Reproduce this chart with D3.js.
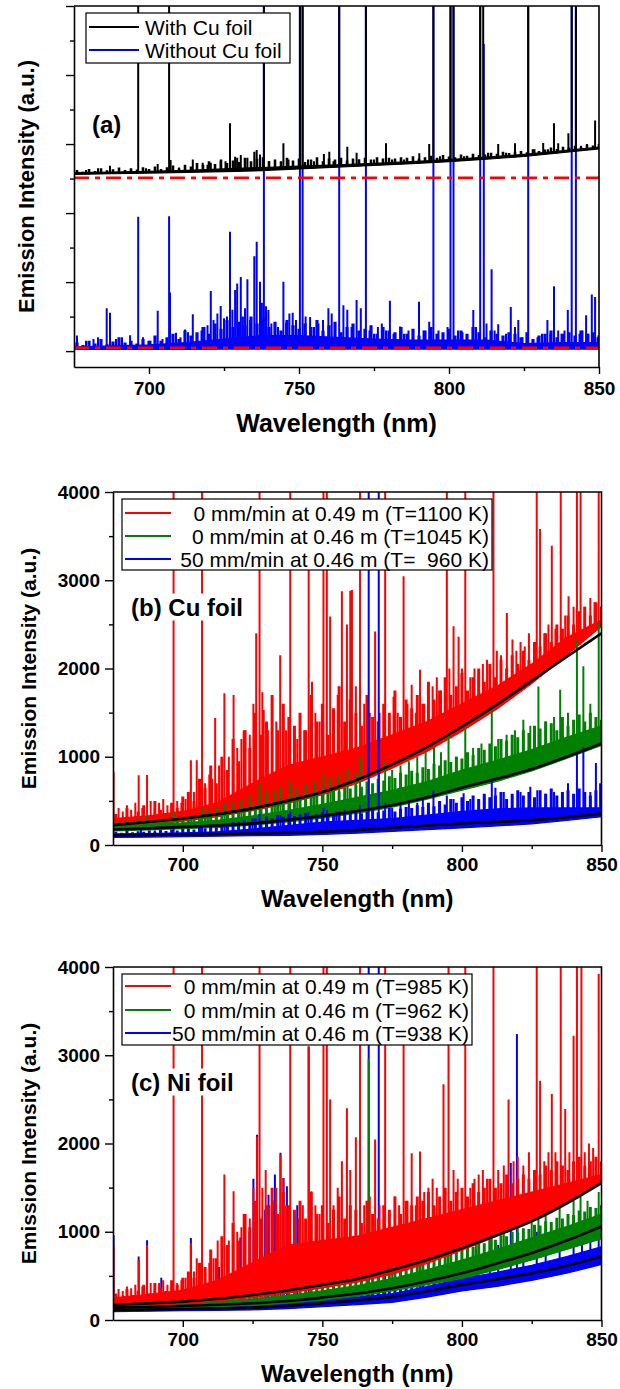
<!DOCTYPE html>
<html><head><meta charset="utf-8">
<script src="https://cdn.jsdelivr.net/npm/d3@7"></script>
<style>body{margin:0;background:#fff}svg{display:block}text{font-family:"Liberation Sans",Arial,sans-serif}</style>
</head><body><svg id="c" width="620" height="1389"></svg>
<script>
// ---------- shared wavelength grids (nm) ----------
const wlGrid = [675,687.5,700,712.5,725,737.5,750,762.5,775,787.5,800,812.5,825,837.5,850];
const denseWl = d3.range(676, 851, 2);   // 676, 678, ... 850 (88 channels)
const xMajor = [700,750,800,850];
const xMinor = [725,775,825];

// ---------- panel (a) ----------
const aLegend = ["With Cu foil","Without Cu foil"];
const aYMajor = [0,2,4,6,8,10];
const aYMinor = [1,3,5,7,9];
const aRefLines = [5.02,0.09];
const aBlueLow  = [0.05,0.05,0.05,0.05,0.06,0.06,0.06,0.06,0.06,0.06,0.06,0.06,0.06,0.06,0.06];
const aBlueHigh = [0.12,0.15,0.18,0.25,0.35,0.45,0.45,0.4,0.35,0.32,0.32,0.32,0.22,0.25,0.25];
const aBlackLow  = [5.12,5.14,5.16,5.18,5.2,5.23,5.28,5.33,5.38,5.43,5.49,5.56,5.64,5.75,5.86];
const aBlackHigh = [5.17,5.19,5.21,5.24,5.28,5.32,5.36,5.4,5.44,5.49,5.55,5.62,5.7,5.8,5.91];
const aBlueDense = [0.25,0.18,0.3,0.22,0.35,0.2,0.28,0.4,0.25,0.3,0.22,0.35,0.3,
  0.45,0.3,0.4,0.5,0.35,0.6,0.45,0.55,0.7,0.5,0.8,0.65,0.9,0.7,0.85,0.75,1.0,0.8,0.95,0.7,
  0.85,0.6,0.9,0.75,0.65,0.8,0.7,0.9,0.6,0.75,0.85,0.55,0.7,0.8,0.6,0.65,0.75,0.5,0.7,0.6,
  0.55,0.7,0.5,0.65,0.45,0.6,0.7,0.5,0.55,0.65,0.45,0.6,0.5,0.7,0.55,0.4,0.6,0.5,0.45,0.55,
  0.5,0.4,0.55,0.35,0.45,0.5,0.6,0.4,0.5,0.55,0.45,0.6,0.5,0.55,0.45];
const aBlackDense = [5.25,5.2,5.28,5.22,5.3,5.24,5.27,5.32,5.25,5.3,5.26,5.33,5.28,
  5.35,5.28,5.33,5.38,5.3,5.4,5.35,5.45,5.4,5.5,5.42,5.55,5.45,5.52,5.48,5.6,5.5,5.58,5.62,5.5,
  5.55,5.5,5.6,5.52,5.58,5.48,5.55,5.62,5.5,5.58,5.55,5.6,5.52,5.58,5.56,5.6,5.55,5.62,5.58,5.6,
  5.58,5.62,5.6,5.65,5.58,5.62,5.66,5.6,5.68,5.64,5.62,5.7,5.66,5.72,5.68,5.7,5.75,5.72,5.78,5.74,
  5.78,5.8,5.76,5.85,5.8,5.84,5.9,5.86,5.92,5.9,5.95,5.92,5.98,5.96,6.0];
const aBluePeaks = [[675.0,1.2],[676,0.45],[679,0.3],[681.5,0.35],[683,0.4],[685.9,1.24],[687,1.11],[689,0.35],[691,0.4],[693.7,0.46],[696.4,3.89],[698,0.4],[700.5,0.3],[702.9,1.17],[704.5,0.35],[706.7,3.91],[707,1.7],[709,0.53],[710.5,0.4],[712,0.63],[713,0.55],[714.6,1.07],[716,0.5],[717.5,0.6],[718.5,0.7],[719.5,0.75],[720.6,1.74],[721.5,0.9],[722.8,1.09],[723.9,1.31],[725,0.95],[726,1.0],[727,3.46],[727.8,1.2],[728.7,1.77],[729.4,1.96],[730.6,2.15],[731.3,1.0],[732,1.24],[732.8,2.08],[733.7,0.9],[735.1,2.75],[735.9,3.17],[737,2.01],[737.6,1.4],[738.3,11],[739,1.3],[739.8,1.19],[740.8,0.8],[742,0.6],[743,0.7],[744.8,2.01],[745.7,0.82],[746.8,1.09],[747.9,1.11],[749,0.9],[750.3,11],[751.2,11],[752.2,1.0],[753.7,0.99],[755,0.7],[756.5,0.8],[758,0.9],[759.8,1.24],[760.9,1.09],[762,0.6],[763.4,11],[764.8,1.33],[766.1,1.2],[767.5,0.7],[769.2,1.48],[770.6,1.24],[772.3,11],[773.5,0.6],[775,0.5],[776.3,0.7],[777.6,0.8],[779,0.6],[780.3,1.46],[781.5,0.5],[783.7,0.71],[785,0.5],[786.5,0.6],[788,0.5],[790,1.43],[791.5,0.6],[793.4,0.85],[794.8,11],[796.5,0.6],[798,0.5],[799.5,0.7],[800.5,11],[801.5,11],[803,0.6],[804.5,0.55],[806,0.4],[808.1,1.19],[809,0.7],[810.4,11],[811.6,8.9],[812.5,0.8],[814.2,2.37],[815.2,0.6],[816.4,0.78],[818,0.4],[819,0.5],[820.6,1.28],[822,0.7],[823.1,0.9],[824.5,0.4],[826.4,11],[828,0.3],[829.5,0.4],[831,0.5],[832.8,0.9],[833.8,0.5],[835,1.88],[836.4,0.6],[837.5,0.5],[838.5,0.6],[839.6,1.19],[840.9,11],[842.3,11],[843.5,0.5],[844.5,0.6],[845.7,1.04],[846.5,0.5],[847.6,1.64],[848.7,1.57],[849.5,0.4]];
const aBlackPeaks = [[675,5.42],[679,5.25],[683,5.3],[687,5.37],[690,5.28],[696.4,12],[699,5.3],[702.9,5.42],[706.7,12],[707.2,5.54],[710,5.32],[712,5.35],[714.6,5.55],[717.9,5.46],[719.5,5.4],[720.6,5.46],[722,5.42],[723.9,5.51],[725.5,5.5],[727,6.6],[728.7,5.63],[729.4,5.6],[730.6,5.68],[732.8,5.6],[735.1,5.78],[735.9,5.83],[737,5.7],[738.3,12],[740,5.5],[742,5.45],[744.8,6.02],[746.5,5.55],[748,5.5],[750.3,12],[751.2,12],[753,5.55],[755,5.5],[758.3,5.71],[760.1,5.78],[761.5,5.5],[763.4,12],[766.1,5.92],[769.2,5.75],[772.3,12],[775,5.55],[779,6.02],[781,5.55],[785,5.55],[788,5.6],[790.1,5.73],[793.4,6.0],[794.8,12],[797,5.65],[800.5,12],[801.5,12],[805,5.65],[808,5.7],[810.4,12],[811.4,12],[813,5.75],[816.4,6.0],[819,5.75],[822,6.02],[824,5.8],[826.4,12],[828.5,5.85],[831.4,6.03],[833,5.85],[835,6.6],[836.4,6.02],[838,5.9],[839.8,6.31],[840.9,12],[842.3,12],[844,5.95],[846,6.0],[848.7,6.68]];

// ---------- panel (b) Cu foil ----------
const bLegend = ["0 mm/min at 0.49 m (T=1100 K)","0 mm/min at 0.46 m (T=1045 K)","50 mm/min at 0.46 m (T=  960 K)"];
const yMajorBC = [0,1000,2000,3000,4000];
const yMinorBC = [500,1500,2500,3500];
const bRedFit   = [225,260,300,350,415,500,600,740,910,1110,1340,1590,1860,2130,2400];
const bGreenFit = [175,188,205,222,245,285,330,385,450,540,650,750,860,1000,1150];
const bBlueFit  = [110,115,121,125,130,138,150,170,195,220,243,262,282,315,357];
const bRedLow   = [200,235,270,320,390,470,570,700,870,1060,1290,1540,1830,2150,2480];
const bRedHigh  = [300,330,380,480,700,900,1000,1100,1250,1400,1600,1800,2050,2350,2550];
const bGreenLow = [160,172,185,200,225,262,305,360,430,520,620,720,840,980,1130];
const bGreenHigh= [215,230,250,280,330,390,460,540,620,720,850,960,1080,1220,1350];
const bBlueLow  = [85,90,95,100,105,110,120,135,155,175,195,215,240,280,320];
const bBlueHigh = [125,130,138,150,180,220,260,280,300,340,380,410,420,420,420];
const bRedDense = [350,300,420,280,380,450,330,500,400,360,480,420,550,
  600,500,750,650,900,700,1000,850,1200,950,1300,1100,1500,1250,1400,1700,1300,1600,1450,1350,
  1500,1300,1700,1400,1600,1250,1550,1800,1400,1650,1500,1350,1700,1450,1400,1600,1500,1750,1450,1650,
  1550,1700,1600,1850,1650,1750,1900,1700,1800,1950,1750,1900,2000,1850,2050,1900,2100,2000,2150,2050,
  2200,2100,2300,2250,2400,2300,2500,2450,2600,2500,2650,2700,2600,2750,2700];
const bGreenDense = [230,250,220,260,240,270,250,280,260,290,270,300,280,
  310,290,330,320,350,340,370,360,400,380,420,410,450,430,480,460,500,490,530,510,
  550,530,580,560,600,590,620,610,650,640,680,660,720,700,750,730,780,760,820,800,
  840,820,880,860,920,900,960,940,1000,980,1050,1020,1100,1080,1150,1120,1200,1180,1250,1220,
  1300,1270,1350,1320,1400,1380,1300,1450,1350,1420,1480,1400,1500,1450,1420];
const bBlueDense = [150,140,160,145,155,150,165,150,170,160,175,165,180,
  185,175,195,190,210,200,230,220,260,240,280,260,300,280,320,300,340,320,350,330,
  340,360,330,350,370,340,360,380,350,370,390,360,380,400,370,390,420,380,410,430,
  420,450,430,480,440,500,460,520,480,540,500,560,520,580,540,560,600,520,580,620,
  560,600,540,620,580,640,560,600,620,580,640,600,560,620,580];
const bRedPeaks = [[675.2,825],[677,420],[678.5,380],[680,450],[681.5,400],[683,480],[684.2,790],[685.5,420],[687.2,793],[688.5,500],[690,420],[691.5,480],[693,520],[694.5,450],[696.7,5000],[698,500],[699.5,480],[701,520],[702.9,960],[704,600],[705,960],[706.9,5000],[708,700],[709.5,800],[710.5,750],[711.6,1440],[713,900],[714.9,1720],[716.5,1000],[718.2,1700],[719.5,1100],[721,1200],[722.5,1300],[724,1250],[725.3,1600],[726.3,2400],[727.5,5000],[728.5,1730],[729,1530],[730.5,1300],[732,1200],[733.5,1400],[734.9,2150],[736,1500],[737,1300],[738.5,5000],[740,1300],[741,1200],[742,1380],[743.5,1300],[745.1,3120],[746.3,1850],[747.5,1500],[749,1400],[750.4,5000],[751.6,5000],[752.8,2590],[754,1500],[755.5,1700],[757,2875],[758.8,2500],[760,2880],[760.6,2890],[762,1800],[763.5,5000],[765,1600],[767,1500],[768.9,2420],[770.5,1500],[772.5,5000],[774,1400],[775.5,1680],[777,1500],[779.1,3045],[780.5,1600],[782,1815],[783.5,1500],[785,1985],[786.5,1600],[788,1700],[789.5,1800],[791,1900],[792.5,1750],[794.6,5000],[795.5,2000],[797,2480],[798.8,2360],[800,2000],[801.2,5000],[803,1900],[804.5,2000],[806,1950],[807.5,2050],[809,2100],[811.3,5000],[812.5,2200],[814,2150],[816.1,2630],[818.1,2330],[819.5,2200],[821,2300],[822.5,2250],[824,2400],[826.8,5000],[828,3580],[829.5,2400],[831,2500],[832.2,3390],[833.5,2450],[835.4,5000],[837,2600],[838.2,2820],[840,2700],[841.2,5000],[842.5,5000],[844,2700],[846,2800],[847.5,2750],[849,5000]];
const bGreenPeaks = [[677,260],[680,280],[684,300],[687.2,330],[690,290],[693,300],[696.7,380],[700,320],[703,340],[706.9,420],[709,400],[712,420],[715,480],[718,500],[721,520],[724,560],[727.5,700],[730,600],[733,620],[735,660],[738.5,720],[741,640],[744,700],[747,720],[750.4,800],[753,760],[756,800],[759,850],[762,820],[763.5,1000],[766.6,1500],[770.2,1400],[772.5,950],[775,850],[778,900],[781,950],[784,1000],[787,1050],[790,1100],[792.5,1050],[795.2,1270],[798,1000],[801.2,1340],[804,1100],[807,1150],[810.7,1570],[813,1200],[816,1250],[819,1300],[822,1420],[824.5,1350],[827.4,1795],[830,1400],[833,1450],[835.2,1760],[838,1500],[841.2,2330],[843.5,2025],[846,1600],[849,2520]];
const bBluePeaks = [[680,160],[685,170],[690,165],[696.7,200],[700,180],[706.9,220],[710,210],[715,230],[720,260],[725,300],[727.5,350],[730,320],[735,340],[738.5,380],[742,350],[745,370],[750.4,420],[751.6,400],[755,380],[758,400],[760,390],[763.5,450],[766.6,5000],[770.2,5000],[772.5,480],[775,420],[778,450],[781,500],[784,480],[786,520],[789.8,620],[792,500],[794.6,560],[797,520],[800.6,585],[803,520],[806,500],[808,560],[810.7,735],[812,650],[815,600],[818,560],[821,600],[824.5,660],[827,620],[830,580],[833,600],[836,560],[838,700],[841.2,1040],[843.5,1110],[846,600],[848,930],[849.5,700]];

// ---------- panel (c) Ni foil ----------
const cLegend = ["0 mm/min at 0.49 m (T=985 K)","0 mm/min at 0.46 m (T=962 K)","50 mm/min at 0.46 m (T=938 K)"];
const cRedFit   = [170,188,208,240,284,335,398,465,568,680,814,960,1117,1320,1553];
const cGreenFit = [140,148,159,172,189,215,254,300,360,440,530,640,758,900,1060];
const cBlueFit  = [114,119,125,131,140,160,189,222,262,325,398,460,530,615,720];
const cRedLow   = [150,165,185,215,255,305,365,430,520,640,790,950,1120,1330,1550];
const cRedHigh  = [250,290,340,450,650,850,900,950,1050,1150,1250,1350,1450,1550,1650];
const cGreenLow = [125,132,140,150,165,190,225,270,330,400,470,570,680,800,920];
const cGreenHigh= [165,175,190,210,240,280,330,390,470,570,680,800,930,1060,1200];
const cBlueLow  = [95,100,105,110,115,130,150,175,200,260,330,380,450,530,630];
const cBlueHigh = [130,135,140,150,165,190,220,260,300,380,470,540,620,720,830];
const cRedDense = [300,250,350,280,330,400,300,420,360,330,450,400,480,
  550,480,650,600,800,700,950,850,1100,900,1200,1050,1350,1150,1300,1500,1200,1450,1300,1250,
  1350,1150,1450,1200,1300,1100,1250,1400,1150,1300,1250,1100,1350,1200,1150,1300,1250,1400,1200,1350,
  1300,1400,1350,1450,1300,1400,1500,1350,1450,1500,1400,1550,1450,1500,1600,1500,1550,1650,1550,1600,
  1650,1600,1700,1650,1750,1700,1800,1750,1700,1800,1850,1750,1800,1850,1800];
const cGreenDense = [170,160,180,165,185,175,190,180,200,190,210,200,220,
  225,215,240,230,255,245,270,260,290,280,310,300,330,320,350,340,370,360,390,380,
  400,390,420,410,440,430,460,450,480,470,500,490,530,520,560,550,590,580,620,610,
  650,640,690,680,720,710,760,750,800,790,840,830,880,870,920,910,960,950,1000,990,
  1040,1030,1080,1070,1120,1110,1160,1150,1200,1190,1240,1230,1280,1270,1300];
const cBlueDense = [140,130,145,135,150,140,150,145,155,150,160,155,165,
  170,160,175,170,180,175,190,185,200,195,210,205,220,215,230,225,240,235,250,245,
  260,255,270,265,280,275,290,285,300,295,310,305,320,315,330,325,340,335,350,360,
  380,370,400,390,420,410,440,430,460,450,480,470,500,490,520,510,540,530,560,550,
  580,570,600,590,630,620,660,650,690,680,720,710,760,780,800];
const cRedPeaks = [[675.2,850],[677,350],[678.5,330],[680,380],[681.5,360],[683,400],[684.2,680],[685.5,380],[687.2,850],[688.5,420],[690,380],[691.5,420],[693,450],[694.5,400],[696.7,5000],[698,420],[699.5,450],[701,480],[702.9,870],[704,550],[705,700],[706.9,5000],[708,550],[709.5,650],[711,700],[712.5,900],[714.9,1650],[716.5,900],[718.2,1460],[719.5,1000],[721,1050],[722.5,1200],[724,1150],[725.3,1500],[726.6,2080],[727.5,5000],[728.5,1500],[729.7,1700],[731,1300],[732.5,1350],[733.5,1500],[735,1875],[736,1610],[737,1300],[738.5,5000],[740,1200],[741.5,1150],[743,1300],[745.1,3100],[746.1,1460],[747.5,1300],[749,1200],[750.4,5000],[751.6,5000],[752.8,2500],[754,1300],[755.5,1500],[757,1800],[758.8,2400],[760,1700],[762,2070],[763.5,5000],[765,1300],[767,1400],[768.9,2045],[770.5,1300],[772.5,5000],[774,1200],[776,1400],[777.5,1300],[779.1,3125],[780.5,1350],[782,1890],[783.5,1300],[785,1910],[786.5,1450],[788,1500],[789.5,1600],[791,1500],[793.4,2670],[795.2,5000],[797,1700],[798.5,1600],[801.2,5000],[803,1500],[804.5,1600],[806,1650],[807.5,1700],[809,1600],[811.3,5000],[813,1700],[815,1750],[816.7,2500],[818.5,1800],[820,1850],[822,1750],[824,1900],[826.8,5000],[828,2710],[829.5,1800],[831,1900],[832.2,2560],[833.5,1900],[835.4,5000],[837,2390],[838.5,1900],[840,3220],[841.2,5000],[842.8,5000],[844,1900],[845.5,2000],[847,1950],[849,3920]];
const cGreenPeaks = [[700,230],[710,260],[720,300],[730,350],[740,400],[750,450],[760,520],[766.6,2960],[770.2,1000],[775,620],[780,700],[785,750],[790,820],[795,880],[800,950],[805,980],[810.7,1100],[815,1050],[820,1150],[825,1200],[827.4,1250],[830,1250],[835,1300],[840,1350],[842.5,1400],[845,1350],[849,1450]];
const cBluePeaks = [[675.2,962],[684.2,720],[687.2,905],[692.3,480],[702.9,930],[713,600],[716,700],[720.6,935],[723.9,1000],[725.3,1600],[726.6,2100],[729.5,1250],[730.7,1420],[733,1650],[735,1895],[736.1,1610],[737.3,1515],[741,1300],[745.1,3100],[766.6,5000],[770.2,5000],[772.5,1000],[776,700],[780,750],[785,700],[790,800],[795,900],[800,750],[805,800],[810,900],[813,850],[817.5,1780],[819.7,3240],[822,900],[826.8,1000],[830,950],[835,1000],[840,1050],[843,1100],[846,1000],[849,1200]];

const RED="#ff0000", GREEN="#008000", BLUE="#0000ff", BLACK="#000000";
const svg = d3.select("#c");
let clipN = 0;

function band(g,x,y,low,high,color){
  const area = d3.area().x((d,i)=>x(wlGrid[i])).y0((d,i)=>y(low[i])).y1((d,i)=>y(high[i]));
  g.append("path").attr("d",area(wlGrid)).attr("fill",color).attr("stroke",color).attr("stroke-width",1.2);
}
function spikes(g,x,y,low,peaks,color,w){
  const lowAt = d3.scaleLinear().domain(wlGrid).range(low);
  const d = peaks.map(([wl,h])=>`M${x(wl)},${y(lowAt(wl))}V${y(h)}`).join("");
  g.append("path").attr("d",d).attr("stroke",color).attr("stroke-width",w).attr("fill","none");
}
function dense(g,x,y,low,vals,color,w){
  spikes(g,x,y,low,vals.map((v,i)=>[denseWl[i],v]),color,w);
}
function fitLine(g,x,y,vals){
  const line = d3.line().x((d,i)=>x(wlGrid[i])).y(d=>y(d)).curve(d3.curveMonotoneX);
  g.append("path").attr("d",line(vals)).attr("fill","none").attr("stroke",BLACK).attr("stroke-width",2.6);
}
function styleAxis(sel,size){
  sel.select(".domain").attr("stroke-width",1.6);
  sel.selectAll(".tick line").attr("stroke-width",1.4);
  sel.selectAll("text").attr("font-family",'"Liberation Sans",Arial,sans-serif').attr("font-weight","bold").attr("font-size",size).attr("fill","#000");
}
function panel(P){
  const x = d3.scaleLinear().domain([675,850]).range([P.left,P.right]);
  const y = d3.scaleLinear().domain(P.yDomain).range([P.bottom,P.top]);
  const id = "clip"+(clipN++);
  svg.append("clipPath").attr("id",id).append("rect").attr("x",P.left).attr("y",P.top).attr("width",P.right-P.left).attr("height",P.bottom-P.top);
  const g = svg.append("g").attr("clip-path",`url(#${id})`);
  P.draw(g,x,y);
  const xa = svg.append("g").attr("transform",`translate(0,${P.bottom})`)
    .call(d3.axisBottom(x).tickValues(xMajor).tickSize(7).tickPadding(P.xPad).tickSizeOuter(0).tickFormat(d3.format("d")));
  styleAxis(xa,19);
  const xm = svg.append("g").attr("transform",`translate(0,${P.bottom})`)
    .call(d3.axisBottom(x).tickValues(xMinor).tickSize(4).tickSizeOuter(0).tickFormat(""));
  styleAxis(xm,19); xm.select(".domain").remove();
  const ya = svg.append("g").attr("transform",`translate(${P.left},0)`)
    .call(d3.axisLeft(y).tickValues(P.yMajor).tickSize(8).tickPadding(5).tickSizeOuter(0).tickFormat(P.yLabels?d3.format("d"):""));
  styleAxis(ya,19);
  const ym = svg.append("g").attr("transform",`translate(${P.left},0)`)
    .call(d3.axisLeft(y).tickValues(P.yMinor).tickSize(4).tickSizeOuter(0).tickFormat(""));
  styleAxis(ym,19); ym.select(".domain").remove();
  svg.append("path").attr("d",`M${P.left},${P.top}H${P.right}V${P.bottom}`).attr("fill","none").attr("stroke","#000").attr("stroke-width",1.6);
  svg.append("text").attr("x",(P.left+P.right)/2).attr("y",P.xTitleY).attr("text-anchor","middle")
    .attr("font-weight","bold").attr("font-size",P.xTitleSize).attr("dominant-baseline","central").text("Wavelength (nm)");
  svg.append("text").attr("transform",`translate(${P.yTitleX},${(P.top+P.bottom)/2}) rotate(-90)`).attr("text-anchor","middle")
    .attr("font-weight","bold").attr("font-size",P.yTitleSize).attr("dominant-baseline","central").text("Emission Intensity (a.u.)");
  const L = P.legend;
  svg.append("rect").attr("x",L.x).attr("y",L.y).attr("width",L.w).attr("height",L.h).attr("fill","#fff").attr("stroke","#000").attr("stroke-width",1.2);
  L.labels.forEach((t,i)=>{
    const cy = L.rows[i];
    svg.append("line").attr("x1",L.lx1).attr("x2",L.lx2).attr("y1",cy).attr("y2",cy).attr("stroke",L.colors[i]).attr("stroke-width",2.2);
    svg.append("text").attr("x",L.tx).attr("y",cy).attr("dominant-baseline","central")
      .attr("text-anchor",L.anchor).attr("font-size",L.size).attr("xml:space","preserve").style("white-space","pre").text(t);
  });
  const lab = svg.append("text").attr("x",P.label.x).attr("y",P.label.y).attr("dominant-baseline","central")
    .attr("font-weight","bold").attr("font-size",24).text(P.label.text);
  if(P.label.bg){
    const bb = lab.node().getBBox();
    svg.insert("rect",function(){return lab.node();}).attr("x",bb.x-2).attr("y",bb.y).attr("width",bb.width+4).attr("height",bb.height).attr("fill","#fff");
  }
}

// Panel (a)
panel({left:74,right:599,top:6,bottom:367,yDomain:[-0.46,10],yMajor:aYMajor,yMinor:aYMinor,yLabels:false,
  xPad:8,xTitleY:423,xTitleSize:25,yTitleX:26,yTitleSize:22,
  draw:(g,x,y)=>{
    band(g,x,y,aBlueLow,aBlueHigh,BLUE);
    dense(g,x,y,aBlueLow,aBlueDense,BLUE,3.2);
    spikes(g,x,y,aBlueLow,aBluePeaks,BLUE,2.0);
    band(g,x,y,aBlackLow,aBlackHigh,BLACK);
    dense(g,x,y,aBlackLow,aBlackDense,BLACK,2.6);
    spikes(g,x,y,aBlackLow,aBlackPeaks,BLACK,2.0);
    aRefLines.forEach(v=>{
      g.append("line").attr("x1",x(675)).attr("x2",x(850)).attr("y1",y(v)).attr("y2",y(v))
        .attr("stroke",RED).attr("stroke-width",2.8).attr("stroke-dasharray","15,6,5,6");
    });
  },
  legend:{x:86,y:13,w:204,h:50,rows:[27,50],lx1:89,lx2:139,tx:145,anchor:"start",size:21,labels:aLegend,colors:[BLACK,BLUE]},
  label:{x:92,y:124,text:"(a)",bg:false}
});

// Panel (b)
panel({left:113,right:601.5,top:492,bottom:845,yDomain:[0,4000],yMajor:yMajorBC,yMinor:yMinorBC,yLabels:true,
  xPad:6,xTitleY:898,xTitleSize:24,yTitleX:28,yTitleSize:21,
  draw:(g,x,y)=>{
    band(g,x,y,bRedLow,bRedHigh,RED); dense(g,x,y,bRedLow,bRedDense,RED,3.0); spikes(g,x,y,bRedLow,bRedPeaks,RED,2.0);
    band(g,x,y,bGreenLow,bGreenHigh,GREEN); dense(g,x,y,bGreenLow,bGreenDense,GREEN,3.0); spikes(g,x,y,bGreenLow,bGreenPeaks,GREEN,2.0);
    band(g,x,y,bBlueLow,bBlueHigh,BLUE); dense(g,x,y,bBlueLow,bBlueDense,BLUE,3.0); spikes(g,x,y,bBlueLow,bBluePeaks,BLUE,2.0);
    fitLine(g,x,y,bRedFit); fitLine(g,x,y,bGreenFit); fitLine(g,x,y,bBlueFit);
  },
  legend:{x:122,y:499,w:370,h:71,rows:[513,536,559],lx1:125,lx2:171,tx:489,anchor:"end",size:21,labels:bLegend,colors:[RED,GREEN,BLUE]},
  label:{x:131,y:607,text:"(b) Cu foil",bg:true}
});

// Panel (c)
panel({left:113,right:601.5,top:967,bottom:1320,yDomain:[0,4000],yMajor:yMajorBC,yMinor:yMinorBC,yLabels:true,
  xPad:6,xTitleY:1373,xTitleSize:24,yTitleX:28,yTitleSize:21,
  draw:(g,x,y)=>{
    band(g,x,y,cBlueLow,cBlueHigh,BLUE); dense(g,x,y,cBlueLow,cBlueDense,BLUE,3.0); spikes(g,x,y,cBlueLow,cBluePeaks,BLUE,2.0);
    band(g,x,y,cGreenLow,cGreenHigh,GREEN); dense(g,x,y,cGreenLow,cGreenDense,GREEN,3.0); spikes(g,x,y,cGreenLow,cGreenPeaks,GREEN,2.0);
    band(g,x,y,cRedLow,cRedHigh,RED); dense(g,x,y,cRedLow,cRedDense,RED,3.0); spikes(g,x,y,cRedLow,cRedPeaks,RED,2.0);
    fitLine(g,x,y,cRedFit); fitLine(g,x,y,cGreenFit); fitLine(g,x,y,cBlueFit);
  },
  legend:{x:122,y:974,w:350,h:71,rows:[986,1010,1033],lx1:125,lx2:171,tx:469,anchor:"end",size:21,labels:cLegend,colors:[RED,GREEN,BLUE]},
  label:{x:131,y:1082,text:"(c) Ni foil",bg:true}
});
</script></body></html>
